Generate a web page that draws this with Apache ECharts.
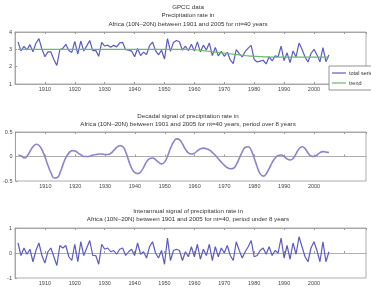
<!DOCTYPE html>
<html>
<head>
<meta charset="utf-8">
<script src="https://cdn.jsdelivr.net/npm/echarts@6/dist/echarts.min.js"></script>
<style>
  html, body { margin: 0; padding: 0; background: #fff; }
  #chart { width: 371px; height: 287px; }
</style>
</head>
<body>
<div id="chart"></div>
<script>
// GPCC precipitation, Africa (10N-20N), 1901..2005, one value per year
var firstYear = 1901;
var yearTicks = [1910, 1920, 1930, 1940, 1950, 1960, 1970, 1980, 1990, 2000];

var totalSeries = [
  3.43, 2.91, 3.17, 2.97, 3.27, 2.86, 3.35, 3.62, 3.02, 2.57,
  2.85, 2.85, 2.41, 2.07, 2.98, 3.05, 3.29, 2.93, 2.82, 3.46,
  2.72, 3.48, 2.9, 3.2, 3.51, 2.93, 2.94, 2.6, 3.4, 3.19,
  3.24, 3.12, 3.23, 3.14, 3.37, 3.4, 2.98, 2.95, 2.9, 2.57,
  3.05, 2.64, 2.84, 2.7, 3.21, 3.42, 2.93, 2.68, 2.95, 2.44,
  3.62, 2.88, 3.4, 3.51, 3.44, 2.95, 3.19, 2.92, 3.29, 2.9,
  3.43, 2.85, 3.24, 2.96, 3.36, 2.64, 3.11, 2.62, 2.88, 2.6,
  2.83, 2.39, 2.18, 2.99, 2.75, 2.56, 2.88, 3.07, 3.23, 2.41,
  2.27, 2.32, 2.37, 2.16, 2.57, 2.33, 2.62, 2.57, 3.18, 2.35,
  2.8, 2.23, 2.91, 2.56, 3.36, 3.0, 2.56, 2.27, 2.76, 3.0,
  2.68, 2.28, 3.1, 2.29, 2.68
];

var trendSeries = [
  3.0, 3.0, 3.0, 3.0, 3.0, 3.0, 3.0, 3.0, 3.0, 3.0,
  3.0, 3.0, 3.0, 3.0, 3.0, 3.0, 3.0, 3.0, 3.0, 3.0,
  3.0, 3.0, 3.0, 3.0, 3.0, 3.0, 3.0, 3.0, 3.0, 3.0,
  3.0, 3.0, 3.0, 3.0, 3.0, 3.0, 3.0, 3.0, 3.0, 3.0,
  3.0, 3.0, 3.0, 3.0, 3.0, 3.0, 3.0, 3.0, 3.0, 3.0,
  3.0, 3.0, 3.0, 3.0, 3.0, 3.0, 3.0, 3.0, 2.99, 2.98,
  2.96, 2.94, 2.92, 2.90, 2.88, 2.86, 2.84, 2.82, 2.80, 2.78,
  2.76, 2.74, 2.72, 2.70, 2.68, 2.66, 2.64, 2.62, 2.61, 2.60,
  2.59, 2.58, 2.57, 2.56, 2.56, 2.55, 2.55, 2.55, 2.55, 2.55,
  2.55, 2.55, 2.55, 2.55, 2.55, 2.55, 2.55, 2.55, 2.55, 2.55,
  2.55, 2.55, 2.55, 2.55, 2.55
];

var decadalSeries = [
  0.03, 0.01, -0.03, 0.02, 0.12, 0.21, 0.25, 0.22, 0.12, -0.03,
  -0.2, -0.35, -0.44, -0.43, -0.32, -0.15, -0.01, 0.08, 0.12, 0.11,
  0.07, 0.03, 0.0, 0.0, 0.01, 0.03, 0.04, 0.05, 0.05, 0.04,
  0.04, 0.07, 0.13, 0.19, 0.22, 0.2, 0.08, -0.1, -0.25, -0.33,
  -0.35, -0.31, -0.21, -0.1, -0.04, -0.03, -0.07, -0.12, -0.15, -0.11,
  0.02, 0.18, 0.3, 0.36, 0.34, 0.25, 0.14, 0.07, 0.05, 0.07,
  0.12, 0.16, 0.17, 0.16, 0.13, 0.08, 0.02, -0.05, -0.12, -0.18,
  -0.23, -0.25, -0.24, -0.16, -0.03, 0.1, 0.19, 0.2, 0.12, -0.04,
  -0.22, -0.36, -0.4, -0.35, -0.24, -0.12, -0.03, 0.02, 0.03, 0.0,
  -0.05, -0.07, -0.04, 0.06, 0.16, 0.2, 0.16, 0.07, 0.01, 0.0,
  0.03, 0.08, 0.1, 0.09, 0.08
];

var interannualSeries = [
  0.4, -0.1, 0.2, -0.05, 0.15, -0.35, 0.1, 0.4, -0.1, -0.4,
  0.05, 0.2, -0.15, -0.5, 0.3, 0.2, 0.3, -0.15, -0.3, 0.35,
  -0.35, 0.45, -0.1, 0.2, 0.5, -0.1, -0.1, -0.45, 0.35, 0.15,
  0.2, 0.05, 0.1, -0.05, 0.15, 0.2, -0.1, 0.05, 0.15, -0.1,
  0.4, -0.05, 0.05, -0.2, 0.25, 0.45, 0.0, -0.2, 0.1, -0.45,
  0.6, -0.3, 0.1, 0.15, 0.1, -0.3, 0.05, -0.15, 0.25, -0.15,
  0.35, -0.25, 0.15, -0.1, 0.35, -0.3, 0.25, -0.15, 0.2, 0.0,
  0.3, -0.1, -0.3, 0.45, 0.1, -0.2, 0.05, 0.25, 0.5, -0.15,
  -0.1, 0.1, 0.2, -0.05, 0.25, -0.1, 0.1, 0.0, 0.6, -0.2,
  0.3, -0.25, 0.4, -0.05, 0.65, 0.25, -0.15, -0.35, 0.2, 0.45,
  0.1, -0.35, 0.45, -0.35, 0.05
];

function withYears(values) {
  return values.map(function (v, i) { return [firstYear + i, v]; });
}

var chart = echarts.init(document.getElementById('chart'), null, { renderer: 'canvas' });

var font = 'Liberation Sans, Arial, sans-serif';
var labelColor = '#444';
var boxColor = '#9a9a9a';
var blue = '#5b5bc4';
var green = '#6cb86c';
var lavender = '#8b84cc';

var grids = [
  { left: 15, right: 5, top: 32, height: 52 },
  { left: 15, right: 5, top: 132, height: 49 },
  { left: 15, right: 5, top: 228, height: 50 }
];

function bottomAxis(gridIndex) {
  return {
    type: 'value', gridIndex: gridIndex, min: 1900, max: 2017.4, interval: 10,
    axisLine: { lineStyle: { color: boxColor, width: 0.8 } },
    axisTick: { inside: true, length: 2, lineStyle: { color: boxColor } },
    splitLine: { show: false },
    axisLabel: {
      fontSize: 5.5, color: labelColor, fontFamily: font, margin: 2,
      showMinLabel: false, showMaxLabel: false,
      formatter: function (v) { return yearTicks.indexOf(v) >= 0 ? String(v) : ''; }
    }
  };
}

function topAxis(gridIndex) {
  return {
    type: 'value', gridIndex: gridIndex, position: 'top', min: 1900, max: 2017.4, interval: 10,
    axisLine: { lineStyle: { color: boxColor, width: 0.8 } },
    axisTick: { inside: true, length: 2, lineStyle: { color: boxColor } },
    axisLabel: { show: false },
    splitLine: { show: false }
  };
}

function leftAxis(gridIndex, min, max, interval) {
  return {
    type: 'value', gridIndex: gridIndex, min: min, max: max, interval: interval,
    axisLine: { show: true, lineStyle: { color: boxColor, width: 0.8 } },
    axisTick: { show: true, inside: true, length: 2, lineStyle: { color: boxColor } },
    splitLine: { show: false },
    axisLabel: { fontSize: 5.5, color: labelColor, fontFamily: font, margin: 3 }
  };
}

var titleStyle = { fontSize: 6.2, fontWeight: 'normal', color: '#333', fontFamily: font, lineHeight: 8.5 };

var option = {
  backgroundColor: '#fff',
  animation: false,
  title: [
    {
      text: 'GPCC data\nPrecipitation rate in\nAfrica (10N\u201320N) between 1901 and 2005 for nt=40 years',
      left: 188, top: 3, textAlign: 'center', padding: 0, textStyle: titleStyle
    },
    {
      text: 'Decadal signal of precipitation rate in\nAfrica (10N\u201320N) between 1901 and 2005 for nt=40 years, period over 8 years',
      left: 188, top: 112, textAlign: 'center', padding: 0, textStyle: titleStyle
    },
    {
      text: 'Interannual signal of precipitation rate in\nAfrica (10N\u201320N) between 1901 and 2005 for nt=40, period under 8 years',
      left: 188, top: 207, textAlign: 'center', padding: 0, textStyle: titleStyle
    }
  ],
  legend: {
    data: ['total series', 'trend'],
    orient: 'vertical',
    left: 329, top: 66,
    icon: 'rect', itemWidth: 14, itemHeight: 1.2, itemGap: 4,
    padding: [4, 12, 4, 3],
    backgroundColor: '#fff', borderColor: '#777', borderWidth: 0.8,
    textStyle: { fontSize: 5.5, color: '#333', fontFamily: font, padding: [0, 0, 0, -2] }
  },
  grid: grids.map(function (g) {
    return { left: g.left, right: g.right, top: g.top, height: g.height, show: true, borderColor: boxColor, borderWidth: 0.8 };
  }),
  xAxis: [bottomAxis(0), topAxis(0), bottomAxis(1), topAxis(1), bottomAxis(2), topAxis(2)],
  yAxis: [leftAxis(0, 1, 4, 1), leftAxis(1, -0.5, 0.5, 0.5), leftAxis(2, -1, 1, 1)],
  series: [
    {
      name: 'total series', type: 'line', xAxisIndex: 0, yAxisIndex: 0,
      data: withYears(totalSeries), showSymbol: false, color: blue,
      lineStyle: { width: 1.2, color: blue }
    },
    {
      name: 'trend', type: 'line', xAxisIndex: 0, yAxisIndex: 0,
      data: withYears(trendSeries), showSymbol: false, smooth: true, color: green,
      lineStyle: { width: 1.2, color: green }
    },
    {
      name: 'decadal', type: 'line', xAxisIndex: 2, yAxisIndex: 1,
      data: withYears(decadalSeries), showSymbol: false, smooth: 0.5,
      lineStyle: { width: 1.6, color: lavender }
    },
    {
      name: 'interannual', type: 'line', xAxisIndex: 4, yAxisIndex: 2,
      data: withYears(interannualSeries), showSymbol: false,
      lineStyle: { width: 1.2, color: blue }
    }
  ]
};

chart.setOption(option);
</script>
</body>
</html>
